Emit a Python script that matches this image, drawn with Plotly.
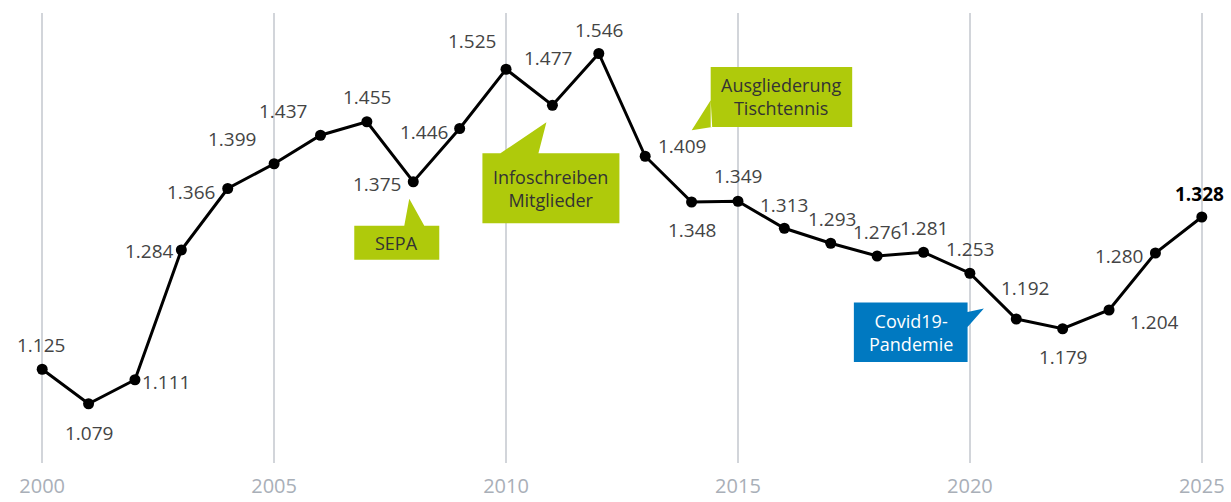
import plotly.graph_objects as go

# ---- data ----
years = list(range(2000, 2026))
members = [1125, 1079, 1111, 1284, 1366, 1399, 1437, 1455, 1375, 1446,
           1525, 1477, 1546, 1409, 1348, 1349, 1313, 1293, 1276, 1281,
           1253, 1192, 1179, 1204, 1280, 1328]
tick_years = [2000, 2005, 2010, 2015, 2020, 2025]
tick_labels = ["2000", "2005", "2010", "2015", "2020", "2025"]

event_years = [2008, 2011, 2013, 2021]
event_texts = ["SEPA", "Infoschreiben<br>Mitglieder", "Ausgliederung<br>Tischtennis", "Covid19-<br>Pandemie"]

# ---- styling: label offsets in pixels (dx right, dy down) ----
label_offsets = [(-1, -24), (0, 29), (31, 2), (-32, 1), (-37, 3), (-42, -25),
                 (-38, -24), (0, -25), (-36, 2), (-36, 3), (-34, -28), (-4, -47),
                 (0, -24), (37, -10), (0, 28), (0, -25), (0, -23), (1, -24),
                 (0, -24), (0, -24), (0, -24), (9, -31), (0, 28), (45, 12),
                 (-36, 3), (-2, -23)]

# callout geometry relative to anchor point (dx right, dy down)
callout_style = [
    dict(box=(-59, 26, 44, 78), tail=[(-9, 44), (-4, 17), (11, 44)],
         fill="#AFCA0B", font="#333333"),
    dict(box=(-70, 67, 48, 118), tail=[(-52, 48), (-6, 17), (-14, 48)],
         fill="#AFCA0B", font="#333333"),
    dict(box=(65.5, 207, -89.3, -29.3), tail=[(65.5, -56), (46.5, -26), (67, -29.3)],
         fill="#AFCA0B", font="#333333"),
    dict(box=(-162.4, -48.7, -16.5, 43), tail=[(-48.7, -7), (-32.4, -10.4), (-48.7, 8)],
         fill="#0079C1", font="#FFFFFF"),
]

FONT = "Open Sans, sans-serif"

fig = go.Figure()
fig.add_trace(go.Scatter(
    x=years, y=members, mode="lines+markers",
    line=dict(color="black", width=3),
    marker=dict(color="black", size=11),
    cliponaxis=False, hoverinfo="skip", showlegend=False,
))

def fmt(v):
    return f"{v:,}".replace(",", ".")

annotations = []
for i, (yr, v) in enumerate(zip(years, members)):
    dx, dy = label_offsets[i]
    last = i == len(years) - 1
    annotations.append(dict(
        x=yr, y=v, xref="x", yref="y", showarrow=False,
        text=f"<b>{fmt(v)}</b>" if last else fmt(v),
        xshift=dx, yshift=-dy,
        font=dict(family=FONT, size=19, color="#000000" if last else "#444444",
                  weight=600 if last else 400),
    ))

shapes = []
for yr, txt, st in zip(event_years, event_texts, callout_style):
    v = members[years.index(yr)]
    x0, x1, y0, y1 = st["box"]
    box = f"M{x0},{-y0} L{x1},{-y0} L{x1},{-y1} L{x0},{-y1} Z"
    t = st["tail"]
    tail = f" M{t[0][0]},{-t[0][1]} L{t[1][0]},{-t[1][1]} L{t[2][0]},{-t[2][1]} Z"
    shapes.append(dict(
        type="path", xref="x", yref="y", xsizemode="pixel", ysizemode="pixel",
        xanchor=yr, yanchor=v, path=box + tail, fillcolor=st["fill"],
        fillrule="nonzero", line=dict(width=0), layer="above",
    ))
    annotations.append(dict(
        x=yr, y=v, xref="x", yref="y", showarrow=False, text=txt,
        xshift=(x0 + x1) / 2, yshift=-(y0 + y1) / 2,
        font=dict(family=FONT, size=18, color=st["font"], weight=400),
    ))

fig.update_layout(
    width=1231, height=502,
    margin=dict(l=19, r=6, t=13, b=39, autoexpand=False),
    paper_bgcolor="white", plot_bgcolor="white",
    xaxis=dict(
        range=[1999.5, 2025.5], tickvals=tick_years, ticktext=tick_labels,
        showgrid=True, gridcolor="#D2D5DA", gridwidth=1.5, zeroline=False,
        showline=False, ticks="outside", ticklen=5, tickcolor="rgba(0,0,0,0)",
        tickfont=dict(family=FONT, size=20, color="#A9AFB8"), fixedrange=True,
        automargin=False,
    ),
    yaxis=dict(range=[1000, 1600], visible=False, fixedrange=True, automargin=False),
    annotations=annotations, shapes=shapes,
)

fig.write_html("out.html", config=dict(displayModeBar=False),
               post_script="document.body.style.margin='0';")
